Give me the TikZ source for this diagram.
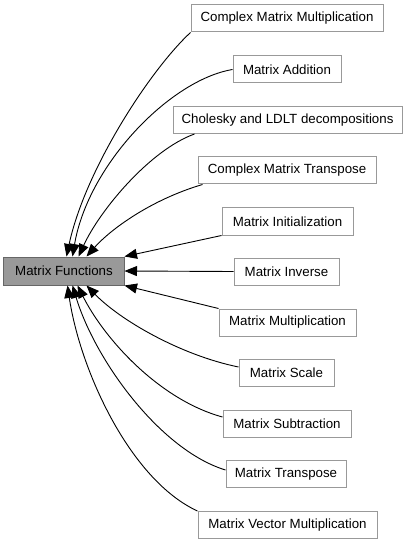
\documentclass[tikz,border=0pt]{standalone}
\usepackage{fontspec}
\setmainfont{Liberation Sans}
\usetikzlibrary{arrows.meta}
\definecolor{mainfill}{HTML}{999999}
\definecolor{mainedge}{HTML}{666666}
\definecolor{boxedge}{HTML}{999999}
\begin{document}
\begin{tikzpicture}[x=1bp,y=-1bp,
  box/.style={draw=boxedge,fill=white,line width=1bp,minimum height=27bp,inner xsep=0pt,inner ysep=0pt,font=\fontsize{13.3bp}{16bp}\selectfont,text=black},
  mainbox/.style={box,fill=mainfill,draw=mainedge,minimum height=28bp},
  link/.style={draw=black,line width=0.9bp,-{Triangle[length=12.5bp,width=10bp]}}]
\useasboundingbox (0,0) rectangle (408,544);
\node[mainbox,minimum width=120bp] (main) at (64,271) {Matrix Functions};
\node[box,minimum width=192bp] (cmm) at (287,18.5) {Complex Matrix Multiplication};
\node[box,minimum width=108bp] (add) at (287,69.5) {Matrix Addition};
\node[box,minimum width=229bp] (chol) at (287.5,120) {Cholesky and LDLT decompositions};
\node[box,minimum width=178bp] (cmt) at (287,170.5) {Complex Matrix Transpose};
\node[box,minimum width=131bp] (init) at (287.5,221.5) {Matrix Initialization};
\node[box,minimum width=105bp] (inv) at (286.5,271.5) {Matrix Inverse};
\node[box,minimum width=137bp] (mult) at (287.5,322.5) {Matrix Multiplication};
\node[box,minimum width=95bp] (scale) at (286.5,373) {Matrix Scale};
\node[box,minimum width=128bp] (sub) at (287,424) {Matrix Subtraction};
\node[box,minimum width=120bp] (trans) at (286,474) {Matrix Transpose};
\node[box,minimum width=179bp] (vec) at (287.5,525) {Matrix Vector Multiplication};
% top edges
\draw[link] (cmm.south west) .. controls (150,70) and (85,170) .. ([xshift=63bp]main.north west);
\draw[link] (add.west) .. controls (170,80) and (88,165) .. ([xshift=69bp]main.north west);
\draw[link] ([xshift=22bp]chol.south west) .. controls (150,150) and (100,210) .. ([xshift=75bp]main.north west);
\draw[link] ([xshift=5bp]cmt.south west) .. controls (150,200) and (110,230) .. ([xshift=83bp]main.north west);
\draw[link] (init.south west) -- (main.north east);
\draw[link] (inv.west) -- (main.east);
% bottom edges
\draw[link] (mult.north west) -- (main.south east);
\draw[link] ([yshift=6bp]scale.west) .. controls (180,355) and (120,320) .. ([xshift=83bp]main.south west);
\draw[link] ([yshift=7bp]sub.west) .. controls (160,400) and (105,340) .. ([xshift=74bp]main.south west);
\draw[link] ([yshift=4bp]trans.west) .. controls (160,450) and (95,360) .. ([xshift=69bp]main.south west);
\draw[link] (vec.north west) .. controls (130,480) and (80,370) .. ([xshift=64bp]main.south west);
\end{tikzpicture}
\end{document}
